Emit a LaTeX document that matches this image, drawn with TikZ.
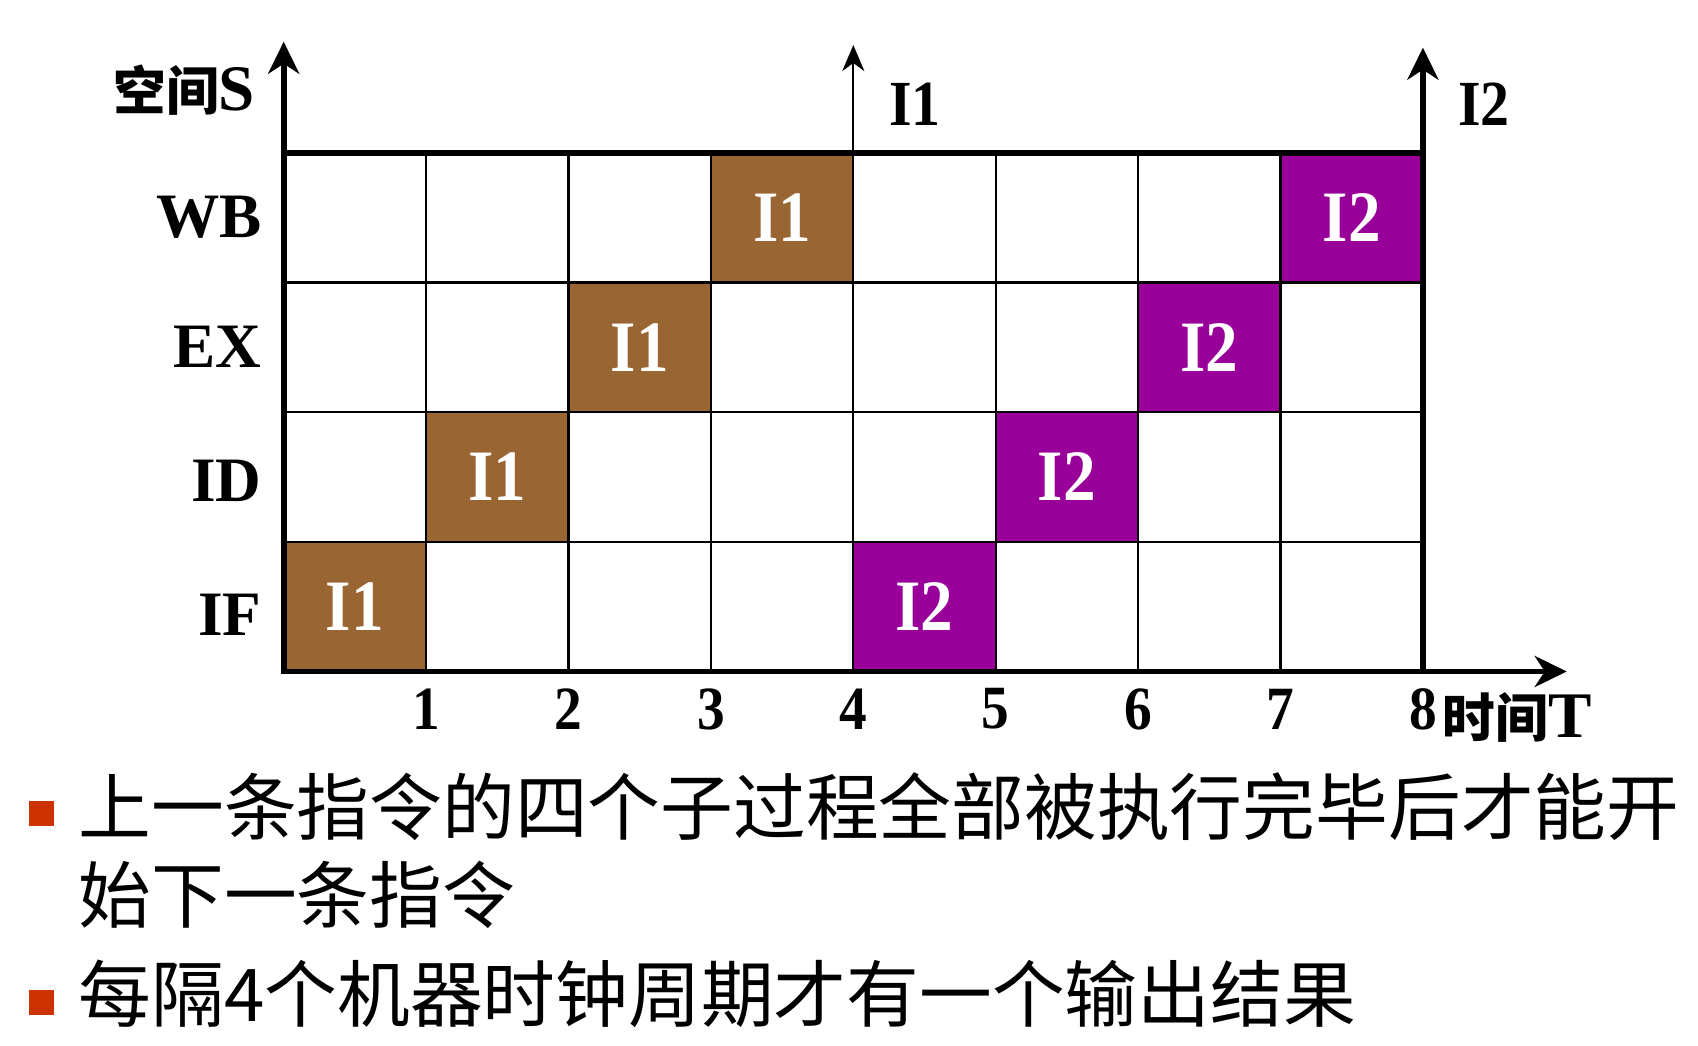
\documentclass[tikz,border=0pt]{standalone}
\usepackage{fontspec}
\usepackage{tikz}
\usetikzlibrary{arrows.meta,positioning}
\setmainfont{Liberation Serif}
\newfontfamily\narrowfont[FakeStretch=0.9]{Liberation Serif}
\newfontfamily\cjk{Noto Sans CJK SC}
\definecolor{brownI}{HTML}{996633}
\definecolor{purpleI}{HTML}{990099}
\definecolor{bulletred}{HTML}{CC3300}
\tikzset{
  thinline/.style={line width=0.65pt},
  thickline/.style={line width=1.6pt},
  bigtip/.tip={Stealth[length=3.2mm,width=3.1mm,inset=1mm]},
  smalltip/.style={-{Stealth[length=2.6mm,width=2.2mm,inset=0.8mm]}},
  stage/.style={anchor=east,inner sep=0pt,font=\fontsize{18}{20}\selectfont\bfseries},
  timemark/.style={font=\narrowfont\fontsize{17.5}{20}\selectfont\bfseries},
  toplabel/.style={anchor=west,inner sep=0pt,font=\narrowfont\fontsize{18.3}{20}\selectfont\bfseries},
  cellI1/.style={fill=brownI,text=white,minimum width=1.424cm,minimum height=1.297cm,
    inner sep=0pt,font=\narrowfont\fontsize{20.6}{22}\selectfont\bfseries},
  cellI2/.style={cellI1,fill=purpleI},
  bullet/.style={fill=bulletred,minimum size=2.5mm,inner sep=0pt},
  note/.style={anchor=base west,inner sep=0pt,font=\cjk\fontsize{20.7}{24.8}\selectfont}
}

\begin{document}
\begin{tikzpicture}
\useasboundingbox (0,0) rectangle (16.98,-10.46);
\begin{scope}[shift={(2.837,-6.715)},x=1.424cm,y=1.297cm]
% filled stages
\node[cellI1] (a1) at (0.5,0.5) {I1};
\node[cellI1] (a2) at (1.5,1.5) {I1};
\node[cellI1] (a3) at (2.5,2.5) {I1};
\node[cellI1] (a4) at (3.5,3.5) {I1};
\node[cellI2] (b1) at (4.5,0.5) {I2};
\node[cellI2] (b2) at (5.5,1.5) {I2};
\node[cellI2] (b3) at (6.5,2.5) {I2};
\node[cellI2] (b4) at (7.5,3.5) {I2};
% grid
\foreach \x in {1,...,7} \draw[thinline] (\x,0) -- (\x,4);
\foreach \y in {1,2,3} \draw[thinline] (0,\y) -- (8,\y);
\coordinate (O) at (0,0);
\coordinate (TL) at (0,4);
\coordinate (TR) at (8,4);
\coordinate (BR) at (8,0);
\coordinate (Mid) at (4,4);
\coordinate (Stip) at (0,4.856);
\coordinate (Ttip) at (9.01,0);
\coordinate (I1tip) at (4,4.83);
\coordinate (I2tip) at (8,4.81);
\draw[thickline] (TL) -- (TR);
\draw[thickline,bigtip-bigtip] (Stip) -- (O) -- (Ttip);
\draw[thickline,-bigtip] (BR) -- (I2tip);
\draw[thinline,smalltip] (Mid) -- (I1tip);
% labels
\node[stage] (wb) at (-0.15,3.5) {WB};
\node[stage] (ex) at (-0.15,2.5) {EX};
\node[stage] (id) at (-0.15,1.47) {ID};
\node[stage] (if) at (-0.15,0.44) {IF};
\foreach \n in {1,...,8} \node[timemark] (t\n) at (\n,-0.29) {\n};
\node[anchor=base west,inner sep=0pt] (tlabel) at ([xshift=-2pt,yshift=-2.3pt]t8.base east)
  {{\cjk\bfseries\fontsize{15}{18}\selectfont 时间}\fontsize{18.5}{20}\selectfont\bfseries T};
\node[anchor=east,inner sep=0pt] (slabel) at (-0.197,4.483)
  {{\cjk\bfseries\fontsize{15}{18}\selectfont 空间}\fontsize{18.5}{20}\selectfont\bfseries S};
\node[toplabel] (i1label) at (4.249,4.37) {I1};
\node[toplabel] (i2label) at (8.243,4.37) {I2};
\end{scope}
% notes
\node[bullet] (sq1) at (0.415,-8.135) {};
\node[note] (line1) at (0.78,-8.347) {上一条指令的四个子过程全部被执行完毕后才能开};
\node[note] (line2) at (0.78,-9.223) {始下一条指令};
\node[bullet] (sq2) at (0.415,-10.025) {};
\node[note] (line3) at (0.78,-10.217) {每隔4个机器时钟周期才有一个输出结果};
\end{tikzpicture}
\end{document}
